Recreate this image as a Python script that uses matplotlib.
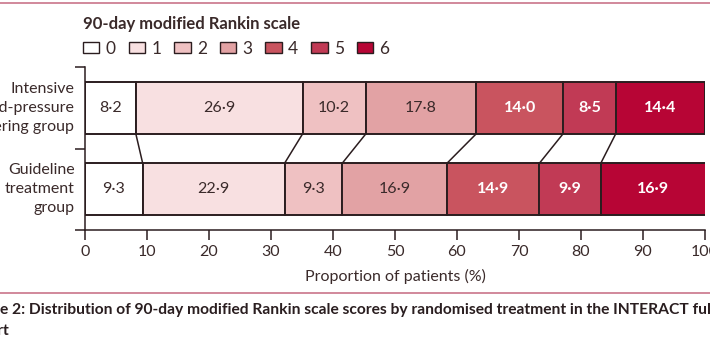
import matplotlib
matplotlib.use("Agg")
import matplotlib.pyplot as plt
from matplotlib.patches import Patch
from matplotlib.lines import Line2D
import numpy as np

groups = ["Intensive\nblood-pressure\nlowering group", "Guideline\ntreatment\ngroup"]
scores = ["0", "1", "2", "3", "4", "5", "6"]
intensive = [8.2, 26.9, 10.2, 17.8, 14.0, 8.5, 14.4]
guideline = [9.3, 22.9, 9.3, 16.9, 14.9, 9.9, 16.9]
xticks = [0, 10, 20, 30, 40, 50, 60, 70, 80, 90, 100]
caption = ("Figure 2: Distribution of 90-day modified Rankin scale scores by "
           "randomised treatment in the INTERACT full")
caption2 = "cohort"

colors = ["#ffffff", "#f8e0e1", "#efc1c2", "#e2a2a4", "#c9545f", "#c13a55", "#b70535"]
text_colors = ["#3a2a2a"] * 4 + ["#ffffff"] * 3
edge = "#2b1d1f"
txt = "#3a2a2a"
plt.rcParams['font.family'] = ["Lato", "DejaVu Sans"]

W, H = 710, 354
fig = plt.figure(figsize=(W / 100, H / 100), dpi=100)
ax = fig.add_axes([85 / W, 1 - 230 / H, 620 / W, 163 / H])

data = [intensive, guideline]
ypos = [1, 0]
h = 0.64
for vals, y in zip(data, ypos):
    left = 0.0
    for i, v in enumerate(vals):
        ax.barh(y, v, left=left, height=h, color=colors[i], edgecolor=edge,
                linewidth=1.4, zorder=2)
        lab = f"{v:.1f}".replace(".", "\u00b7")
        ax.text(left + v / 2, y, lab, ha="center", va="center", fontsize=11.5,
                color=text_colors[i], zorder=3,
                fontweight="bold" if i >= 4 else "normal")
        left += v

cum_top = np.cumsum(intensive)[:-1]
cum_bot = np.cumsum(guideline)[:-1]
for a, b in zip(cum_top, cum_bot):
    ax.plot([a, b], [1 - h / 2, 0 + h / 2], color=edge, linewidth=1.1, zorder=1)

ax.set_xlim(0, 100)
ax.set_ylim(-0.5, 1.5)
ax.set_xticks(xticks)
ax.set_xticklabels([str(t) for t in xticks], fontsize=11.5, color=txt)
ax.set_yticks([-0.5, 0.5, 1.5])
ax.set_yticklabels([])
ax.tick_params(axis="both", length=7, width=1.1, color=edge)
ax.tick_params(axis="x", pad=4)
for s in ["top", "right"]:
    ax.spines[s].set_visible(False)
for s in ["left", "bottom"]:
    ax.spines[s].set_color(edge)
    ax.spines[s].set_linewidth(1.1)
ax.set_xlabel("Proportion of patients (%)", fontsize=11.5, color=txt, labelpad=7)

for g, y in zip(groups, ypos):
    ax.text(-1.7, y, g, ha="right", va="center", fontsize=11.5, color=txt,
            linespacing=1.45)

handles = [Patch(facecolor=c, edgecolor=edge, linewidth=1.0) for c in colors]
leg = fig.legend(handles, scores, ncol=7, frameon=False, loc="upper left",
                 bbox_to_anchor=(83 / W, 1 - 16 / H), fontsize=12.5,
                 title="90-day modified Rankin scale",
                 title_fontproperties={"weight": "bold", "size": 12},
                 handlelength=0.95, handleheight=0.55, handletextpad=0.35,
                 columnspacing=0.75, borderpad=0, borderaxespad=0,
                 alignment="left")
for t in leg.get_texts():
    t.set_color(txt)
leg.get_title().set_color(txt)

line_col = "#c9748a"
fig.add_artist(Line2D([0, 1], [1 - 3 / H, 1 - 3 / H], transform=fig.transFigure,
                      color=line_col, linewidth=1.2))
fig.add_artist(Line2D([0, 1], [1 - 293 / H, 1 - 293 / H], transform=fig.transFigure,
                      color=line_col, linewidth=1.2))

# fit caption so that the visible part ("e 2: ... INTERACT fu") spans the width
renderer = fig.canvas.get_renderer()
def width_of(s, size):
    t = fig.text(0, 0, s, fontsize=size, fontweight="bold")
    w = t.get_window_extent(renderer).width
    t.remove()
    return w
base = 12.5
vis = caption[caption.index("e 2:"):caption.index("full") + 2]
size = base * W / width_of(vis, base)
off = width_of("Figur", size)
fig.text(-off / W, 1 - 310 / H, caption, fontsize=size, fontweight="bold",
         color="#2a1e20", va="center", ha="left")
fig.text(-off / W, 1 - 331 / H, caption2, fontsize=size, fontweight="bold",
         color="#2a1e20", va="center", ha="left")

fig.savefig("out.png", dpi=100)
